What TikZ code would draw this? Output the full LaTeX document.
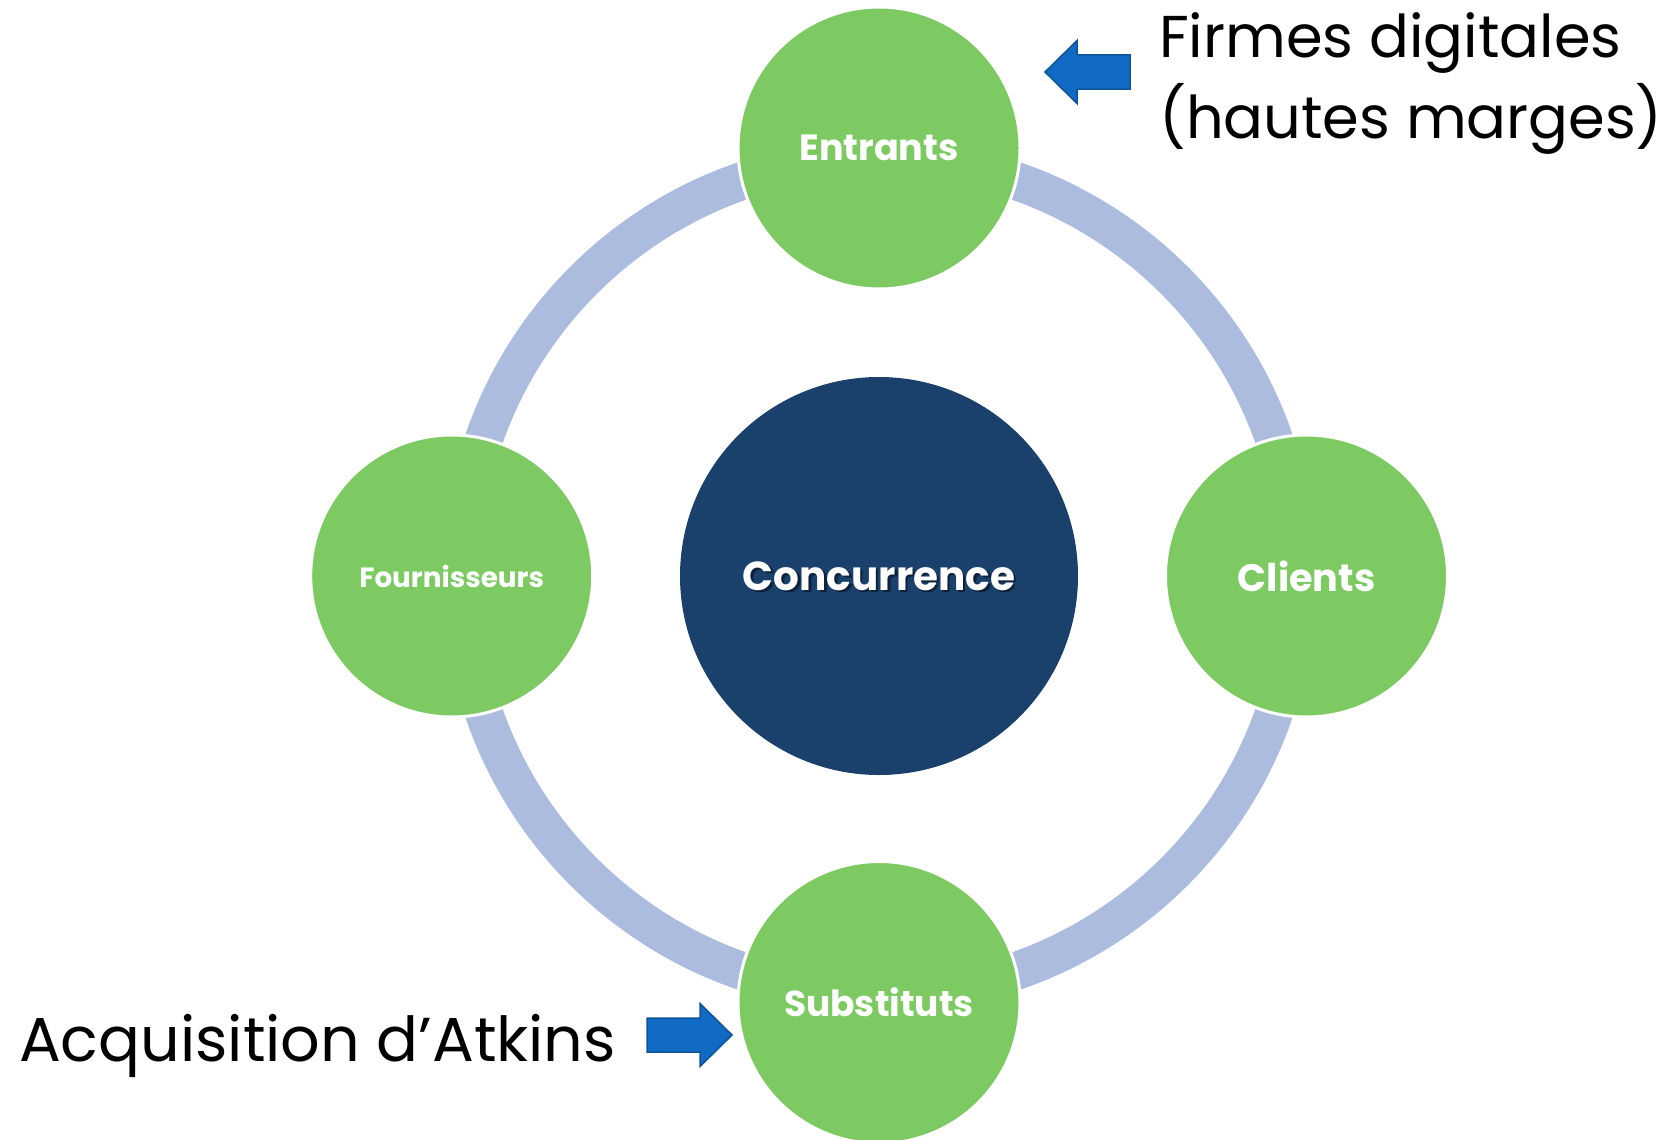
\documentclass[tikz,border=0pt]{standalone}
\usepackage{fontspec}
\setmainfont{Poppins}
\definecolor{ringblue}{RGB}{171,188,223}
\definecolor{leafgreen}{RGB}{125,202,99}
\definecolor{coreblue}{RGB}{26,64,108}
\definecolor{arrowfill}{RGB}{17,107,196}
\definecolor{arrowedge}{RGB}{15,84,153}
\begin{document}
\begin{tikzpicture}[x=1pt,y=-1pt,
  leaf/.style={circle, inner sep=0pt, minimum size=282pt, fill=leafgreen, draw=white, line width=3pt, text=white},
  core/.style={circle, inner sep=0pt, minimum size=398pt, fill=coreblue},
  corelabel/.style={inner sep=0pt, text=white, font=\bfseries\fontsize{40.5}{48}\selectfont},
  blockarrow/.style={fill=arrowfill, draw=arrowedge, line width=1.5pt, line join=miter},
  outertext/.style={anchor=base west, inner sep=0pt, font=\fontsize{62}{75}\selectfont}]
\useasboundingbox[fill=white] (0,0) rectangle (1670,1140);
\coordinate (hub) at (879,576);
\draw[ringblue, line width=38pt] (hub) circle[radius=418pt];
\node[core] (core) at (hub) {};
\node[corelabel, text=black, opacity=0.45] (coreshadow) at ([shift={(2.5,2.5)}]core.center) {Concurrence};
\node[corelabel] (corelab) at (core.center) {Concurrence};
\node[leaf, font=\bfseries\fontsize{36.5}{44}\selectfont] (entrants) at (879,148) {Entrants};
\node[leaf, font=\bfseries\fontsize{27.8}{34}\selectfont] (fourn) at (451.7,576) {Fournisseurs};
\node[leaf, font=\bfseries\fontsize{38.2}{46}\selectfont] (clients) at (1306.5,576) {Clients};
\node[leaf, font=\bfseries\fontsize{36}{44}\selectfont] (subst) at (879,1002.5) {Substituts};
% block arrows
\draw[blockarrow] (1045,72) -- (1077,40.5) -- (1077,55) -- (1130,55) -- (1130,89) -- (1077,89) -- (1077,103.5) -- cycle;
\draw[blockarrow] (732,1035) -- (700,1003.5) -- (700,1018) -- (647,1018) -- (647,1052) -- (700,1052) -- (700,1066.5) -- cycle;
% outer texts
\node[outertext, font=\fontsize{59}{72}\selectfont] (firmes) at (1159,58) {Firmes digitales};
\node[outertext, font=\fontsize{59}{72}\selectfont] (marges) at (1159,138) {(hautes marges)};
\node[outertext] (atkins) at (19,1061) {Acquisition d’Atkins};
\end{tikzpicture}
\end{document}
